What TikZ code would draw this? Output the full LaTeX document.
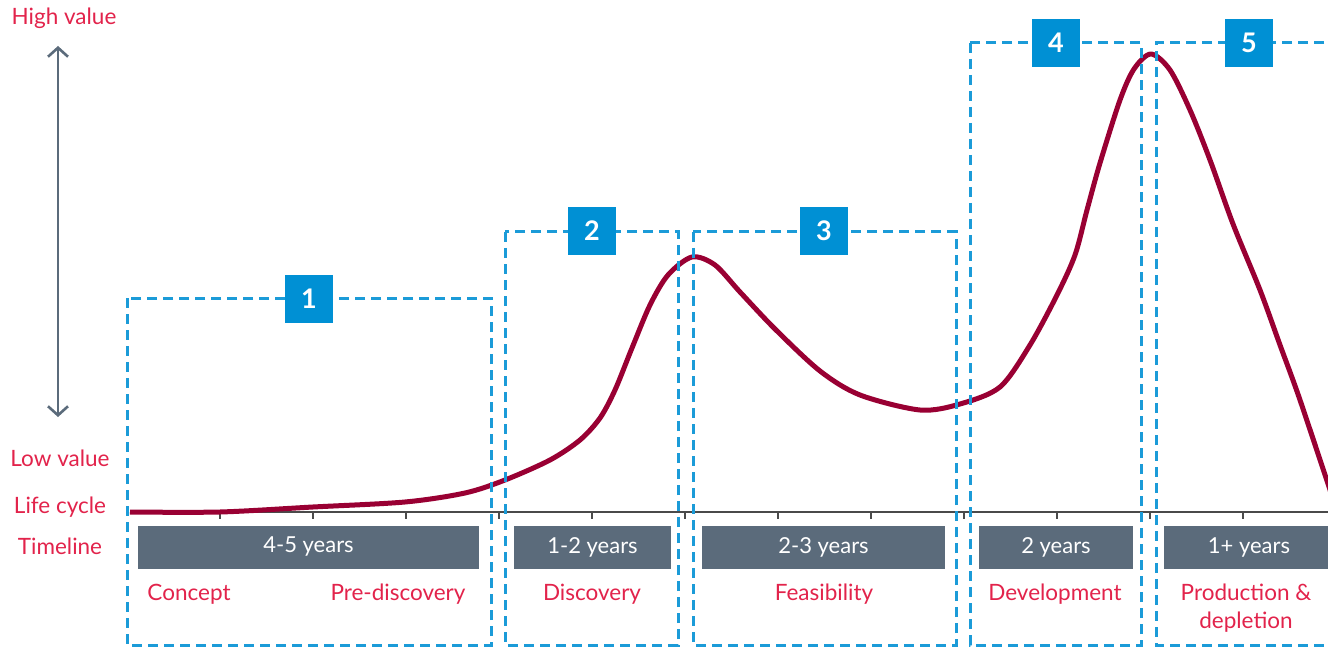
\documentclass[tikz,border=0pt]{standalone}
\usepackage{fontspec}
\setmainfont{Lato}
\usetikzlibrary{arrows.meta}
\definecolor{lblred}{HTML}{E2234B}
\definecolor{curvered}{HTML}{990033}
\definecolor{stageblue}{HTML}{0090D4}
\definecolor{dashblue}{HTML}{1B9BD8}
\definecolor{bargray}{HTML}{5B6B7B}
\definecolor{axisgray}{HTML}{4A4A4A}
\tikzset{
  stagebox/.style={draw=dashblue, line width=3pt, dash pattern=on 10pt off 6pt},
  numbox/.style={fill=stageblue, text=white, minimum width=48pt, minimum height=48pt,
                 inner sep=0pt, font=\fontsize{27}{27}\selectfont\bfseries},
  timebar/.style={fill=bargray, text=white, inner sep=0pt, minimum height=43pt,
                  font=\fontsize{22}{24}\selectfont},
  phase/.style={text=lblred, align=center, font=\fontsize{22.5}{28}\selectfont},
  sidelbl/.style={text=lblred, font=\fontsize{22.5}{24}\selectfont},
}
\begin{document}
\begin{tikzpicture}[x=1pt, y=-1pt]
\useasboundingbox (0,0) rectangle (1328,647);
\clip (0,0) rectangle (1328,647);

% timeline axis with ticks
\draw[axisgray, line width=1.8pt] (130,512) -- (1330,512);
\foreach \tx in {220,313,406,499,592,685,778,871,964,1057,1150,1243}
  \draw[axisgray, line width=1.8pt] (\tx,512) -- (\tx,519);

% value curve
\draw[curvered, line width=5pt, line join=round]
  plot[smooth, tension=0.5] coordinates {
    (130,512) (220,512) (313,507) (405,502) (465,493) (505,480) (550,460)
    (580,440) (600,418) (615,390) (632,348) (650,305) (668,275) (692,257)
    (715,265) (740,292) (775,329) (820,371) (860,395) (920,410) (960,404)
    (1000,387) (1030,345) (1057,295) (1075,255) (1087,210) (1100,163)
    (1120,100) (1134,69) (1151,54) (1170,70) (1190,110) (1210,160)
    (1233,224) (1260,290) (1280,345) (1300,400) (1335,505)};

% stage frames
\draw[stagebox] (127,298) rectangle (491,645);
\draw[stagebox] (505,232) rectangle (678,645);
\draw[stagebox] (693,232) rectangle (956,645);
\draw[stagebox] (970,43) rectangle (1141,645);
\draw[stagebox] (1340,43) -- (1156,43) -- (1156,645) -- (1340,645);

% stage numbers
\node[numbox] (n1) at (309,299) {1};
\node[numbox] (n2) at (592,231) {2};
\node[numbox] (n3) at (824,231) {3};
\node[numbox] (n4) at (1056,43) {4};
\node[numbox] (n5) at (1249,43) {5};

% duration bars
\node[timebar, minimum width=341pt] (t1) at (308.5,547) {4-5 years};
\node[timebar, minimum width=157pt] (t2) at (592.5,547) {1-2 years};
\node[timebar, minimum width=243pt] (t3) at (823.5,547) {2-3 years};
\node[timebar, minimum width=154pt] (t4) at (1056,547) {2 years};
\node[timebar, minimum width=170pt] (t5) at (1249,547) {1+ years};

% phase names
\node[phase] (p1) at (189,594) {Concept};
\node[phase] (p2) at (398,594) {Pre-discovery};
\node[phase] (p3) at (592,594) {Discovery};
\node[phase] (p4) at (824,594) {Feasibility};
\node[phase] (p5) at (1055,594) {Development};
\node[phase, anchor=north] (p6) at (1246,580) {Production \&\\depletion};

% value scale
\node[sidelbl] (hi) at (64,18) {High value};
\node[sidelbl] (lo) at (60,458) {Low value};
\node[sidelbl] (lc) at (60,507) {Life cycle};
\node[sidelbl] (tl) at (60,546) {Timeline};
\coordinate (atop) at (58,46);
\coordinate (abot) at (58,417);
\draw[bargray, line width=2.6pt,
      {Straight Barb[length=9pt,width=20pt]}-{Straight Barb[length=9pt,width=20pt]}]
  (atop) -- (abot);
\end{tikzpicture}
\end{document}
